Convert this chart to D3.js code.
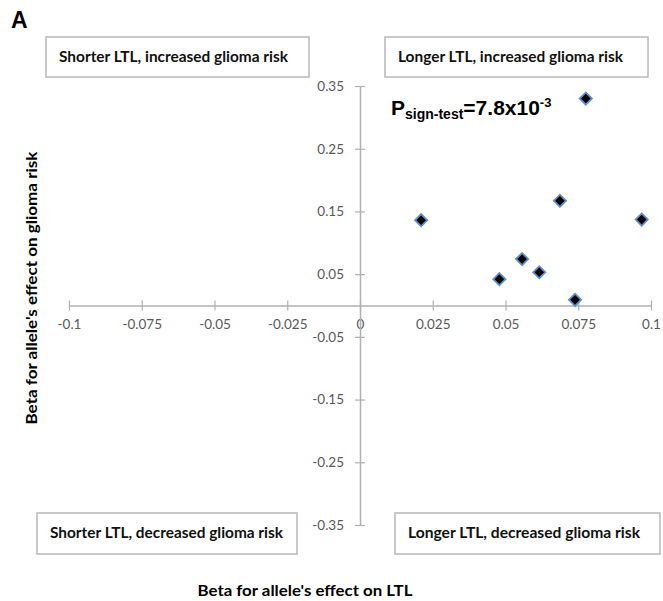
<!DOCTYPE html>
<html>
<head>
<meta charset="utf-8">
<script src="https://cdn.jsdelivr.net/npm/d3@7"></script>
<style>
  body { margin: 0; background: #fff; }
  svg { display: block; }
</style>
</head>
<body>
<div id="chart"></div>
<script>
// beta values
var ltlBeta = [0.0776, 0.0687, 0.0968, 0.021, 0.0557, 0.0616, 0.0479, 0.0739];
var gliomaBeta = [0.330, 0.167, 0.137, 0.136, 0.074, 0.053, 0.042, 0.009];

var xTicks = [-0.1, -0.075, -0.05, -0.025, 0, 0.025, 0.05, 0.075, 0.1];
var xTickLabels = ["-0.1", "-0.075", "-0.05", "-0.025", "0", "0.025", "0.05", "0.075", "0.1"];
var yTicks = [0.35, 0.25, 0.15, 0.05, -0.05, -0.15, -0.25, -0.35];
var yTickLabels = ["0.35", "0.25", "0.15", "0.05", "-0.05", "-0.15", "-0.25", "-0.35"];

var quadrantLabels = [
  "Shorter LTL, increased glioma risk",
  "Longer LTL, increased glioma risk",
  "Shorter LTL, decreased glioma risk",
  "Longer LTL, decreased glioma risk"
];

var W = 663, H = 601;
var font = "Lato, 'Open Sans', sans-serif";
var axisGrey = "#b0b0b0";

var svg = d3.select("#chart").append("svg")
  .attr("width", W)
  .attr("height", H);

svg.append("rect").attr("width", W).attr("height", H).attr("fill", "#fff");

var x = d3.scaleLinear().domain([-0.1, 0.1]).range([69, 651]);
var y = d3.scaleLinear().domain([-0.35, 0.35]).range([525, 86]);

// x axis crosses at y = 0
var xAxis = d3.axisBottom(x)
  .tickValues(xTicks)
  .tickFormat((d, i) => xTickLabels[i])
  .tickSizeOuter(0)
  .tickSizeInner(5)
  .tickPadding(9);

var gx = svg.append("g")
  .attr("transform", "translate(0," + y(0) + ")")
  .call(xAxis);

// y axis crosses at x = 0
var yAxis = d3.axisLeft(y)
  .tickValues(yTicks)
  .tickFormat((d, i) => yTickLabels[i])
  .tickSizeOuter(0)
  .tickSizeInner(5)
  .tickPadding(11);

var gy = svg.append("g")
  .attr("transform", "translate(" + x(0) + ",0)")
  .call(yAxis);

gx.selectAll(".tick line").attr("y1", -5).attr("y2", 5);
gy.selectAll(".tick line").attr("x1", 5).attr("x2", -5);

[gx, gy].forEach(g => {
  g.select(".domain").attr("stroke", axisGrey).attr("stroke-width", 1.5);
  g.selectAll(".tick line").attr("stroke", axisGrey).attr("stroke-width", 1.2);
  g.selectAll(".tick text")
    .attr("fill", "#595959")
    .style("font-family", font)
    .style("font-size", "13.5px");
});

// quadrant boxes
var boxes = [
  {x: 46, y: 37, w: 263, h: 40, tw: 229},
  {x: 385, y: 37, w: 263, h: 40, tw: 225},
  {x: 37, y: 513, w: 260, h: 41, tw: 233},
  {x: 395, y: 513, w: 265, h: 41, tw: 232}
];

boxes.forEach((b, i) => {
  svg.append("rect")
    .attr("x", b.x).attr("y", b.y)
    .attr("width", b.w).attr("height", b.h)
    .attr("fill", "#fff")
    .attr("stroke", "#b8b8b8")
    .attr("stroke-width", 1.5);
  svg.append("text")
    .attr("x", b.x + 13)
    .attr("y", b.y + 20)
    .attr("dy", "0.35em")
    .attr("textLength", b.tw)
    .attr("lengthAdjust", "spacingAndGlyphs")
    .style("font-family", font)
    .style("font-weight", "bold")
    .style("font-size", "15.5px")
    .attr("fill", "#111")
    .text(quadrantLabels[i]);
});

// points
var diamond = d3.symbol().type(d3.symbolSquare).size(74);
svg.append("g").selectAll("path")
  .data(ltlBeta)
  .join("path")
  .attr("d", diamond)
  .attr("transform", (d, i) => "translate(" + x(d) + "," + y(gliomaBeta[i]) + ") rotate(45)")
  .attr("fill", "#000")
  .attr("stroke", "#5b8fd0")
  .attr("stroke-width", 1.8);

// sign test annotation
var p = svg.append("text")
  .attr("x", 391)
  .attr("y", 115)
  .style("font-family", "'Liberation Sans', Arial, sans-serif")
  .style("font-weight", "bold")
  .attr("fill", "#000");
p.append("tspan").style("font-size", "21px").text("P");
p.append("tspan").style("font-size", "14px").attr("dy", 4).text("sign-test");
p.append("tspan").style("font-size", "21px").attr("dy", -4).text("=7.8x10");
p.append("tspan").style("font-size", "13px").attr("dy", -8).text("-3");

// panel letter
svg.append("text")
  .attr("x", 11).attr("y", 28)
  .style("font-family", "'Liberation Sans', Arial, sans-serif")
  .style("font-weight", "bold")
  .style("font-size", "23px")
  .text("A");

// axis titles
svg.append("text")
  .attr("x", 305).attr("y", 596)
  .attr("text-anchor", "middle")
  .attr("textLength", 215)
  .attr("lengthAdjust", "spacingAndGlyphs")
  .style("font-family", font)
  .style("font-weight", "bold")
  .style("font-size", "16px")
  .text("Beta for allele's effect on LTL");

svg.append("text")
  .attr("transform", "translate(37,288) rotate(-90)")
  .attr("text-anchor", "middle")
  .attr("textLength", 273)
  .attr("lengthAdjust", "spacingAndGlyphs")
  .style("font-family", font)
  .style("font-weight", "bold")
  .style("font-size", "16px")
  .text("Beta for allele's effect on glioma risk");
</script>
</body>
</html>
